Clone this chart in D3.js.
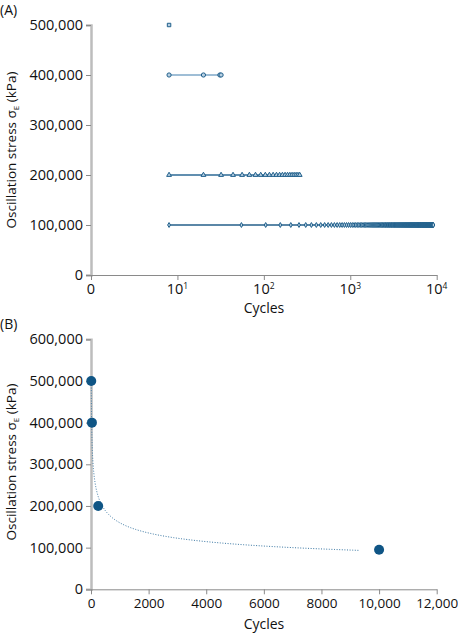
<!DOCTYPE html>
<html><head><meta charset="utf-8">
<script src="https://cdn.jsdelivr.net/npm/d3@7"></script>
<style>
body{margin:0;background:#fff;}
text{font-family:"Open Sans","Noto Sans",sans-serif;fill:#111;}
</style></head>
<body><svg id="c" width="458" height="636"></svg>
<script>
// ---- Panel A data (log cycles) ----
const seriesStress = [500000, 400000, 200000, 100000];
const seriesShape = ["square", "circle", "triangle", "diamond"];
const cycles500 = [8];
const cycles400 = [8, 20, 31, 32];
const cycles200 = [8,20,32,44,56,68,80,92,104,116,128,140,152,164,176,188,200,212,224,236,248,260];
const cycles100 = [8,55,105,155,205,255,305,355,405,455,505,555,605,655,705,755,805,855,905,955,
1005,1055,1105,1155,1205,1255,1305,1355,1405,1455,1505,1555,1605,1655,1705,1755,1805,1855,1905,1955,
2005,2055,2105,2155,2205,2255,2305,2355,2405,2455,2505,2555,2605,2655,2705,2755,2805,2855,2905,2955,
3005,3055,3105,3155,3205,3255,3305,3355,3405,3455,3505,3555,3605,3655,3705,3755,3805,3855,3905,3955,
4005,4055,4105,4155,4205,4255,4305,4355,4405,4455,4505,4555,4605,4655,4705,4755,4805,4855,4905,4955,
5005,5055,5105,5155,5205,5255,5305,5355,5405,5455,5505,5555,5605,5655,5705,5755,5805,5855,5905,5955,
6005,6055,6105,6155,6205,6255,6305,6355,6405,6455,6505,6555,6605,6655,6705,6755,6805,6855,6905,6955,
7005,7055,7105,7155,7205,7255,7305,7355,7405,7455,7505,7555,7605,7655,7705,7755,7805,7855,7905,7955,
8005,8055,8105,8155,8205,8255,8305,8355,8405,8455,8505,8555,8605,8655,8705,8755,8805,8855,8905,8955,
9005,9055,9105,9155];
const seriesCycles = [cycles500, cycles400, cycles200, cycles100];
const xTicksA = [1, 10, 100, 1000, 10000];
const xTickLabelsA = [["0",""],["10","1"],["10","2"],["10","3"],["10","4"]];
const yTicksA = [0,100000,200000,300000,400000,500000];

// ---- Panel B data (linear cycles to failure) ----
const cyclesB = [8, 32, 250, 10000];
const stressB = [500000, 400000, 200000, 95000];
const xTicksB = [0,2000,4000,6000,8000,10000,12000];
const yTicksB = [0,100000,200000,300000,400000,500000,600000];

const svg = d3.select("#c");
const fmtComma = d3.format(",");
const axisLight = "#bdbdbd", axisDark = "#8a8a8a";
const tickFont = 14.5;

function yLabel(g, x, y) {
  const t = g.append("text").attr("transform", `translate(${x},${y}) rotate(-90)`)
    .attr("text-anchor","middle").attr("font-size", 13.5);
  t.append("tspan").text("Oscillation stress σ");
  t.append("tspan").attr("font-size", 8).attr("dy", 3).text("E");
  t.append("tspan").attr("dy", -3).text(" (kPa)");
}

// ===== Panel A =====
const xA = d3.scaleLog().domain([1, 10000]).range([91, 436.7]);
const yA = d3.scaleLinear().domain([0, 500000]).range([275, 25]);
const gA = svg.append("g");
gA.append("text").attr("x", 0).attr("y", 15).attr("font-size", 14).text("(A)");

const yAxA = gA.append("g").attr("transform", "translate(91,0)")
  .call(d3.axisLeft(yA).tickValues(yTicksA).tickFormat(fmtComma).tickSize(5).tickPadding(3));
yAxA.select(".domain").attr("stroke", axisLight).attr("stroke-width", 2.5);
yAxA.selectAll(".tick line").attr("stroke", axisDark);
yAxA.selectAll(".tick text").attr("font-size", tickFont).attr("fill", "#111")
  .attr("font-family", "'Open Sans',sans-serif");
const xAxA = gA.append("g").attr("transform", "translate(0,275)")
  .call(d3.axisBottom(xA).tickValues(xTicksA).tickFormat("").tickSize(5).tickSizeOuter(0));
xAxA.select(".domain").attr("stroke", axisDark).attr("stroke-width", 1);
xAxA.selectAll(".tick line").attr("stroke", axisDark);
xTicksA.forEach((v, i) => {
  const t = gA.append("text").attr("x", xA(v)).attr("y", 294).attr("text-anchor", "middle")
    .attr("font-size", tickFont);
  t.append("tspan").text(xTickLabelsA[i][0]);
  if (xTickLabelsA[i][1]) t.append("tspan").attr("font-size", 8.5).attr("dy", -5).text(xTickLabelsA[i][1]);
});
gA.append("text").attr("x", 264).attr("y", 313).attr("text-anchor","middle").attr("font-size", 14).text("Cycles");
yLabel(gA, 16, 150);

const lineColors = ["#2d6a96", "#7fa8c8", "#2d6a96", "#245f8a"];
const symMap = {square: d3.symbolSquare, circle: d3.symbolCircle, triangle: d3.symbolTriangle, diamond: d3.symbolDiamond};
const symSize = {square: 12, circle: 14, triangle: 10, diamond: 7};
seriesStress.forEach((s, i) => {
  const pts = seriesCycles[i].map(c => [xA(c), yA(s)]);
  if (pts.length > 1) {
    gA.append("path").attr("d", d3.line()(pts)).attr("fill", "none")
      .attr("stroke", lineColors[i]).attr("stroke-width", 1.4);
  }
  const sym = d3.symbol().type(symMap[seriesShape[i]]).size(symSize[seriesShape[i]]);
  gA.append("g").selectAll("path").data(seriesCycles[i]).join("path")
    .attr("transform", c => `translate(${xA(c)},${yA(s)})`)
    .attr("d", sym).attr("fill", "#b9d0e2").attr("stroke", "#1f5f8b").attr("stroke-width", 1);
});

// ===== Panel B =====
const xB = d3.scaleLinear().domain([0, 12000]).range([91, 436.7]);
const yB = d3.scaleLinear().domain([0, 600000]).range([589.3, 339.3]);
const gB = svg.append("g");
gB.append("text").attr("x", 0).attr("y", 329).attr("font-size", 14).text("(B)");
const yAxB = gB.append("g").attr("transform", "translate(91,0)")
  .call(d3.axisLeft(yB).tickValues(yTicksB).tickFormat(fmtComma).tickSize(5).tickPadding(3));
yAxB.select(".domain").attr("stroke", axisLight).attr("stroke-width", 2.5);
yAxB.selectAll(".tick line").attr("stroke", axisDark);
yAxB.selectAll(".tick text").attr("font-size", tickFont).attr("fill", "#111");
const xAxB = gB.append("g").attr("transform", "translate(0,589.3)")
  .call(d3.axisBottom(xB).tickValues(xTicksB)
    .tickFormat(d => d >= 10000 ? fmtComma(d) : String(d)).tickSize(5).tickSizeOuter(0).tickPadding(4));
xAxB.select(".domain").attr("stroke", axisDark).attr("stroke-width", 1);
xAxB.selectAll(".tick line").attr("stroke", axisDark);
xAxB.selectAll(".tick text").attr("font-size", 13.5).attr("fill", "#111");
gB.append("text").attr("x", 264).attr("y", 629).attr("text-anchor","middle").attr("font-size", 14).text("Cycles");
yLabel(gB, 16, 462);

// power-law trend line fitted to the B data (least squares on logs)
const lx = cyclesB.map(Math.log), ly = stressB.map(Math.log);
const mx = d3.mean(lx), my = d3.mean(ly);
const b = d3.sum(lx, (v, i) => (v - mx) * (ly[i] - my)) / d3.sum(lx, v => (v - mx) * (v - mx));
const a = Math.exp(my - b * mx);
const trendX = d3.range(0, 301).map(i => Math.exp(Math.log(8) + i / 300 * (Math.log(9300) - Math.log(8))));
gB.append("path")
  .attr("d", d3.line().x(c => xB(c)).y(c => yB(a * Math.pow(c, b)))(trendX))
  .attr("fill", "none").attr("stroke", "#3a77a3").attr("stroke-width", 1)
  .attr("stroke-dasharray", "1,1.6");
gB.append("g").selectAll("circle").data(cyclesB).join("circle")
  .attr("cx", d => xB(d)).attr("cy", (d, i) => yB(stressB[i])).attr("r", 5)
  .attr("fill", "#0f5585");
</script></body></html>
